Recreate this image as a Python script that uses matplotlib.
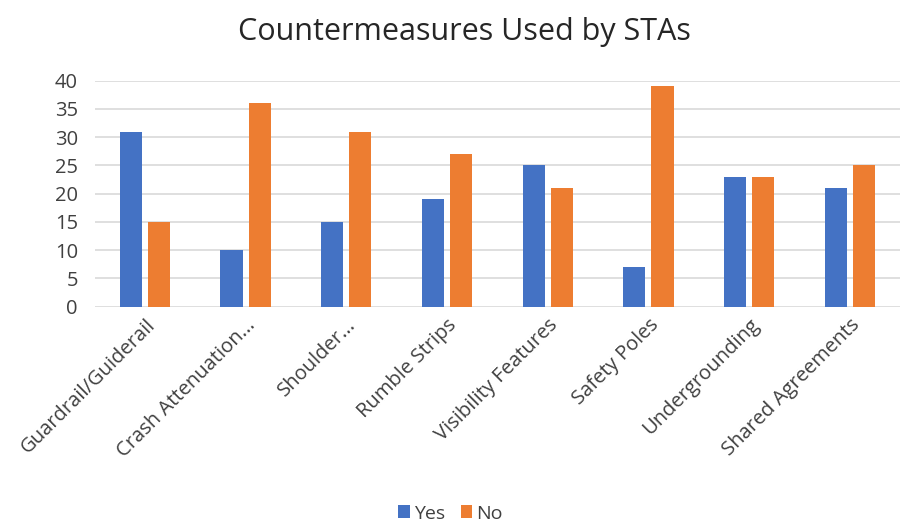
import numpy as np
import matplotlib.pyplot as plt

plt.rcParams['font.family'] = ['Open Sans', 'DejaVu Sans']

categories = ['Guardrail/Guiderail', 'Crash Attenuation...', 'Shoulder...',
              'Rumble Strips', 'Visibility Features', 'Safety Poles',
              'Undergrounding', 'Shared Agreements']
yes = [31, 10, 15, 19, 25, 7, 23, 21]
no = [15, 36, 31, 27, 21, 39, 23, 25]

fig = plt.figure(figsize=(9.01, 5.24), dpi=100)
ax = fig.add_axes([0.105, 0.4147, 0.894, 0.4313])

x = np.arange(len(categories))
w = 0.22
ax.bar(x - 0.14, yes, w, color='#4472C4', label='Yes', zorder=3)
ax.bar(x + 0.14, no, w, color='#ED7D31', label='No', zorder=3)

ax.set_xlim(-0.5, len(categories) - 0.5)
ax.set_ylim(0, 40)
ax.set_yticks(range(0, 41, 5))
ax.yaxis.grid(True, color='#D9D9D9', linewidth=1.2, zorder=0)
for s in ax.spines.values():
    s.set_visible(False)
ax.tick_params(axis='both', length=0, labelsize=14.5, labelcolor='#404040')
ax.tick_params(axis='y', pad=12)
ax.tick_params(axis='x', pad=6)
ax.set_xticks(x)
ax.set_xticklabels(categories, rotation=45, ha='right', rotation_mode='anchor')

fig.text(0.515, 0.938, 'Countermeasures Used by STAs', ha='center', va='center',
         fontsize=22, color='#262626')
fig.legend(loc='center', bbox_to_anchor=(0.5, 0.02), ncol=2, frameon=False,
           fontsize=14, handlelength=0.6, handleheight=0.6, columnspacing=0.8,
           handletextpad=0.2, labelcolor='#404040')

fig.savefig('out.png', dpi=100)
